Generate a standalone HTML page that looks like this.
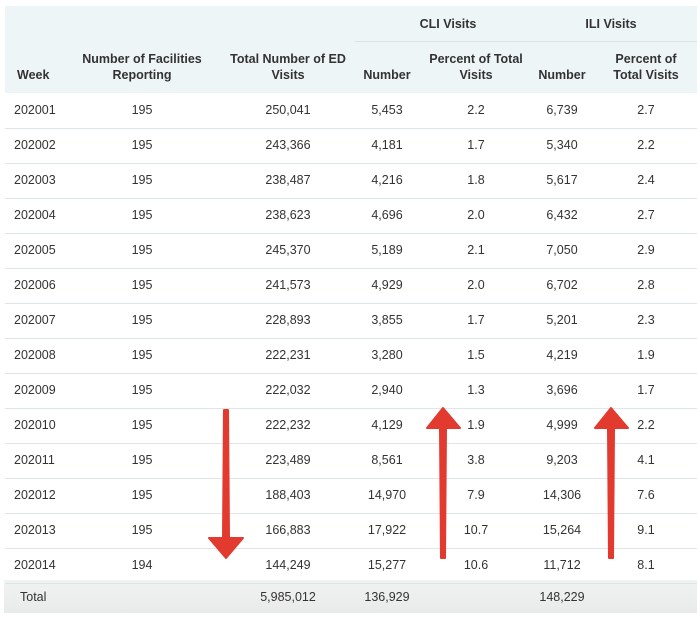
<!DOCTYPE html>
<html><head><meta charset="utf-8"><style>
body{margin:0;width:700px;height:619px;background:#fff;position:relative;font-family:"Liberation Sans",sans-serif;color:#333;overflow:hidden}
.t{position:absolute;font-size:12.5px;white-space:nowrap;line-height:16px}
.c{transform:translateX(-50%);text-align:center}
.h{font-weight:bold;font-size:12.5px}
.line{position:absolute;left:5px;width:692px;height:1px;background:#dfe6e9}
</style></head><body>
<div style="position:absolute;left:5px;top:6px;width:692px;height:87px;background:#eef5f7"></div>
<div style="position:absolute;left:355px;top:41px;width:342px;height:1px;background:#d9e3e6"></div>
<div style="position:absolute;left:4px;top:580px;width:693px;height:33px;background:linear-gradient(#f1f2f2,#e9eaea)"></div>
<div class="t h c" style="left:448px;top:16px">CLI Visits</div>
<div class="t h c" style="left:611px;top:16px">ILI Visits</div>
<div class="t h" style="left:17px;top:67px">Week</div>
<div class="t h c" style="left:142px;top:51px">Number of Facilities<br>Reporting</div>
<div class="t h c" style="left:288px;top:51px">Total Number of ED<br>Visits</div>
<div class="t h c" style="left:387px;top:67px">Number</div>
<div class="t h c" style="left:476px;top:51px">Percent of Total<br>Visits</div>
<div class="t h c" style="left:562px;top:67px">Number</div>
<div class="t h c" style="left:646px;top:51px">Percent of<br>Total Visits</div>
<div id="rows"></div>
<script>
var d=[["202001",195,"250,041","5,453","2.2","6,739","2.7"],["202002",195,"243,366","4,181","1.7","5,340","2.2"],["202003",195,"238,487","4,216","1.8","5,617","2.4"],["202004",195,"238,623","4,696","2.0","6,432","2.7"],["202005",195,"245,370","5,189","2.1","7,050","2.9"],["202006",195,"241,573","4,929","2.0","6,702","2.8"],["202007",195,"228,893","3,855","1.7","5,201","2.3"],["202008",195,"222,231","3,280","1.5","4,219","1.9"],["202009",195,"222,032","2,940","1.3","3,696","1.7"],["202010",195,"222,232","4,129","1.9","4,999","2.2"],["202011",195,"223,489","8,561","3.8","9,203","4.1"],["202012",195,"188,403","14,970","7.9","14,306","7.6"],["202013",195,"166,883","17,922","10.7","15,264","9.1"],["202014",194,"144,249","15,277","10.6","11,712","8.1"]];
var xs=[142,288,387,476,562,646],h="";
d.forEach(function(r,i){var y=102+i*35;
h+='<div class="t" style="left:14px;top:'+y+'px">'+r[0]+'</div>';
for(var j=1;j<7;j++)h+='<div class="t c" style="left:'+xs[j-1]+'px;top:'+y+'px">'+r[j]+'</div>';
h+='<div class="line" style="top:'+(128+i*35)+'px"></div>';});
h+='<div class="t" style="left:20px;top:589px">Total</div><div class="t c" style="left:288px;top:589px">5,985,012</div><div class="t c" style="left:387px;top:589px">136,929</div><div class="t c" style="left:562px;top:589px">148,229</div>';
document.getElementById('rows').innerHTML=h;
</script>
<svg style="position:absolute;left:0;top:0" width="700" height="619">
<g fill="#e23a2f" stroke="#e23a2f" stroke-linejoin="round" stroke-width="2">
<polygon points="224,410 228,410 229,538 243,538 226,558 209,538 223,538"/>
<polygon points="443,408 460,428 446,428 445,558 441,558 440,428 427,428"/>
<polygon points="611,408 628,428 614,428 613,558 609,558 608,428 595,428"/>
</g></svg>
</body></html>
